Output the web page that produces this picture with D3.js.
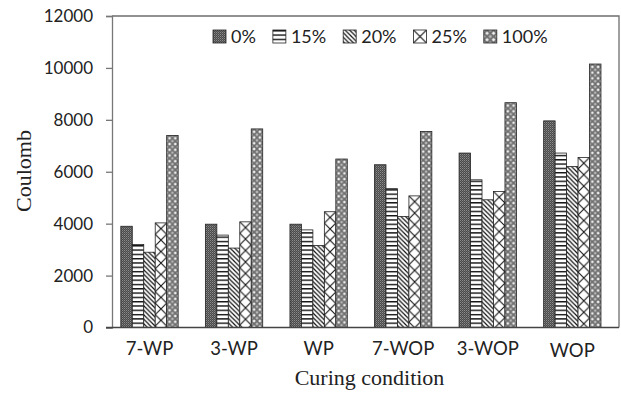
<!DOCTYPE html>
<html>
<head>
<meta charset="utf-8">
<script src="https://cdn.jsdelivr.net/npm/d3@7"></script>
<style>
  body { margin: 0; background: #fff; }
  svg { display: block; }
</style>
</head>
<body>
<div id="chart"></div>
<script>
var svgWidth = 621;
var svgHeight = 397;

// categories along the x axis
var conditions = ["7-WP", "3-WP", "WP", "7-WOP", "3-WOP", "WOP"];
// series (replacement level)
var series = ["0%", "15%", "20%", "25%", "100%"];
// values per series, one for each condition
var v0   = [3900, 3980, 3980, 6270, 6720, 7960];
var v15  = [3200, 3560, 3760, 5350, 5690, 6720];
var v20  = [2900, 3060, 3160, 4280, 4920, 6200];
var v25  = [4030, 4070, 4460, 5070, 5240, 6550];
var v100 = [7400, 7650, 6490, 7550, 8660, 10150];
var yTicks = [0, 2000, 4000, 6000, 8000, 10000, 12000];

var values = [v0, v15, v20, v25, v100];

var plot = { left: 112, right: 619, top: 16, bottom: 327.5 };

var svg = d3.select("#chart")
  .append("svg")
  .attr("width", svgWidth)
  .attr("height", svgHeight);

var defs = svg.append("defs");

// 0% : dark fine dots
var p0 = defs.append("pattern").attr("id", "p0")
  .attr("patternUnits", "userSpaceOnUse").attr("width", 2).attr("height", 2);
p0.append("rect").attr("width", 2).attr("height", 2).attr("fill", "#4a4a4a");
p0.append("rect").attr("width", 1).attr("height", 1).attr("fill", "#8c8c8c");
p0.append("rect").attr("x", 1).attr("y", 1).attr("width", 1).attr("height", 1).attr("fill", "#6a6a6a");

// 15% : horizontal lines
var p15 = defs.append("pattern").attr("id", "p15")
  .attr("patternUnits", "userSpaceOnUse").attr("width", 4).attr("height", 4.3);
p15.append("rect").attr("width", 4).attr("height", 4.3).attr("fill", "#fff");
p15.append("rect").attr("y", 0).attr("width", 4).attr("height", 1.4).attr("fill", "#111");

// 20% : backslash diagonals
var p20 = defs.append("pattern").attr("id", "p20")
  .attr("patternUnits", "userSpaceOnUse").attr("width", 4.5).attr("height", 4.5);
p20.append("rect").attr("width", 4.5).attr("height", 4.5).attr("fill", "#fff");
p20.append("path").attr("d", "M-1,-1 L5.5,5.5 M-1,3.5 L1,5.5 M3.5,-1 L5.5,1")
  .attr("stroke", "#111").attr("stroke-width", 1.2);

// 25% : big X crosshatch, one pattern per bar so it lines up with the bar edges
function crossPattern(id, x, y, w) {
  var p = defs.append("pattern").attr("id", id)
    .attr("patternUnits", "userSpaceOnUse")
    .attr("x", x).attr("y", y).attr("width", w).attr("height", w);
  p.append("rect").attr("width", w).attr("height", w).attr("fill", "#fff");
  p.append("path").attr("d", "M0,0 L" + w + "," + w + " M" + w + ",0 L0," + w)
    .attr("stroke", "#111").attr("stroke-width", 1.1);
}

// 100% : gray lattice with white diamonds, two cells across a bar
function diamondPattern(id, x, y, w) {
  var c = w / 2;
  var p = defs.append("pattern").attr("id", id)
    .attr("patternUnits", "userSpaceOnUse")
    .attr("x", x).attr("y", y).attr("width", c).attr("height", c);
  p.append("rect").attr("width", c).attr("height", c).attr("fill", "#6e6e6e");
  var h = c / 2, r = c * 0.3;
  p.append("path")
    .attr("d", `M${h},${h - r} L${h + r},${h} L${h},${h + r} L${h - r},${h} Z`)
    .attr("fill", "#f0f0f0");
  p.append("path")
    .attr("d", `M0,0 L${r},0 L0,${r} Z M${c},0 L${c - r},0 L${c},${r} Z M0,${c} L${r},${c} L0,${c - r} Z M${c},${c} L${c - r},${c} L${c},${c - r} Z`)
    .attr("fill", "#b8b8b8");
}

var fills = ["url(#p0)", "url(#p15)", "url(#p20)", null, null];

var x0 = d3.scaleBand().domain(conditions).range([107.2, 614.6]).padding(0);
var bw = x0.bandwidth();
var x1 = d3.scaleBand().domain(series).range([bw * 0.161, bw * 0.839]).padding(0);

var yScale = d3.scaleLinear().domain([0, 12000]).range([plot.bottom, plot.top]);

// frame (top and right sides)
svg.append("path")
  .attr("d", "M" + plot.left + "," + plot.top + " H" + plot.right + " V" + plot.bottom)
  .attr("fill", "none").attr("stroke", "#6e6e6e").attr("stroke-width", 1.3);

// bars
var barData = [];
conditions.forEach(function(c, i) {
  series.forEach(function(s, j) {
    barData.push({ cond: c, ser: s, j: j, value: values[j][i] });
  });
});

svg.append("g").selectAll("rect")
  .data(barData)
  .enter()
  .append("rect")
  .attr("x", d => x0(d.cond) + x1(d.ser))
  .attr("y", d => yScale(d.value))
  .attr("width", x1.bandwidth())
  .attr("height", d => yScale(0) - yScale(d.value))
  .attr("fill", function(d, i) {
    var bx = x0(d.cond) + x1(d.ser);
    if (d.j === 3) {
      crossPattern("p25-" + i, bx, yScale(d.value), x1.bandwidth());
      return "url(#p25-" + i + ")";
    }
    if (d.j === 4) {
      diamondPattern("p100-" + i, bx, yScale(d.value), x1.bandwidth());
      return "url(#p100-" + i + ")";
    }
    return fills[d.j];
  })
  .attr("stroke", "#222")
  .attr("stroke-width", 0.8);

// y axis
var leftAxis = d3.axisLeft(yScale).tickValues(yTicks).tickSize(6).tickPadding(13)
  .tickFormat(d3.format("d"));
var yAxis = svg.append("g")
  .attr("transform", `translate(${plot.left}, 0)`)
  .call(leftAxis);
yAxis.select(".domain").attr("stroke", "#777").attr("stroke-width", 1.3);
yAxis.selectAll(".tick line").attr("stroke", "#777").attr("stroke-width", 1.3);
yAxis.selectAll("text")
  .attr("font-family", "Lato, 'Open Sans', sans-serif")
  .attr("font-size", "17px")
  .attr("fill", "#222");

// x axis baseline
svg.append("line")
  .attr("x1", plot.left - 6).attr("x2", plot.right)
  .attr("y1", plot.bottom).attr("y2", plot.bottom)
  .attr("stroke", "#444").attr("stroke-width", 1.5);

// x category labels
svg.append("g").selectAll("text")
  .data(conditions)
  .enter()
  .append("text")
  .attr("x", d => x0(d) + bw / 2)
  .attr("y", (d, i) => i === 5 ? 357 : 355)
  .attr("text-anchor", "middle")
  .attr("font-family", "Lato, 'Open Sans', sans-serif")
  .attr("font-size", "18.5px")
  .attr("fill", "#222")
  .text(d => d);

// axis titles
svg.append("text")
  .attr("x", (plot.left + plot.right) / 2 + 4)
  .attr("y", 385)
  .attr("text-anchor", "middle")
  .attr("font-family", "'Liberation Serif', 'DejaVu Serif', serif")
  .attr("font-size", "22px")
  .attr("fill", "#222")
  .text("Curing condition");

svg.append("text")
  .attr("transform", "translate(31, 171) rotate(-90)")
  .attr("text-anchor", "middle")
  .attr("font-family", "'Liberation Serif', 'DejaVu Serif', serif")
  .attr("font-size", "22px")
  .attr("fill", "#222")
  .text("Coulomb");

// legend
var legend = svg.append("g");
var lx = 213;
series.forEach(function(s, j) {
  var sw = 13;
  var fill = fills[j];
  if (j === 3) {
    crossPattern("p25-legend", lx, 30, sw);
    fill = "url(#p25-legend)";
  }
  if (j === 4) {
    diamondPattern("p100-legend", lx, 30, sw);
    fill = "url(#p100-legend)";
  }
  legend.append("rect")
    .attr("x", lx).attr("y", 30)
    .attr("width", sw).attr("height", sw)
    .attr("fill", fill)
    .attr("stroke", "#222").attr("stroke-width", 0.8);
  var t = legend.append("text")
    .attr("x", lx + sw + 5)
    .attr("y", 43)
    .attr("font-family", "Lato, 'Open Sans', sans-serif")
    .attr("font-size", "18px")
    .attr("fill", "#222")
    .text(s);
  lx += sw + 5 + t.node().getComputedTextLength() + 17;
});
</script>
</body>
</html>
